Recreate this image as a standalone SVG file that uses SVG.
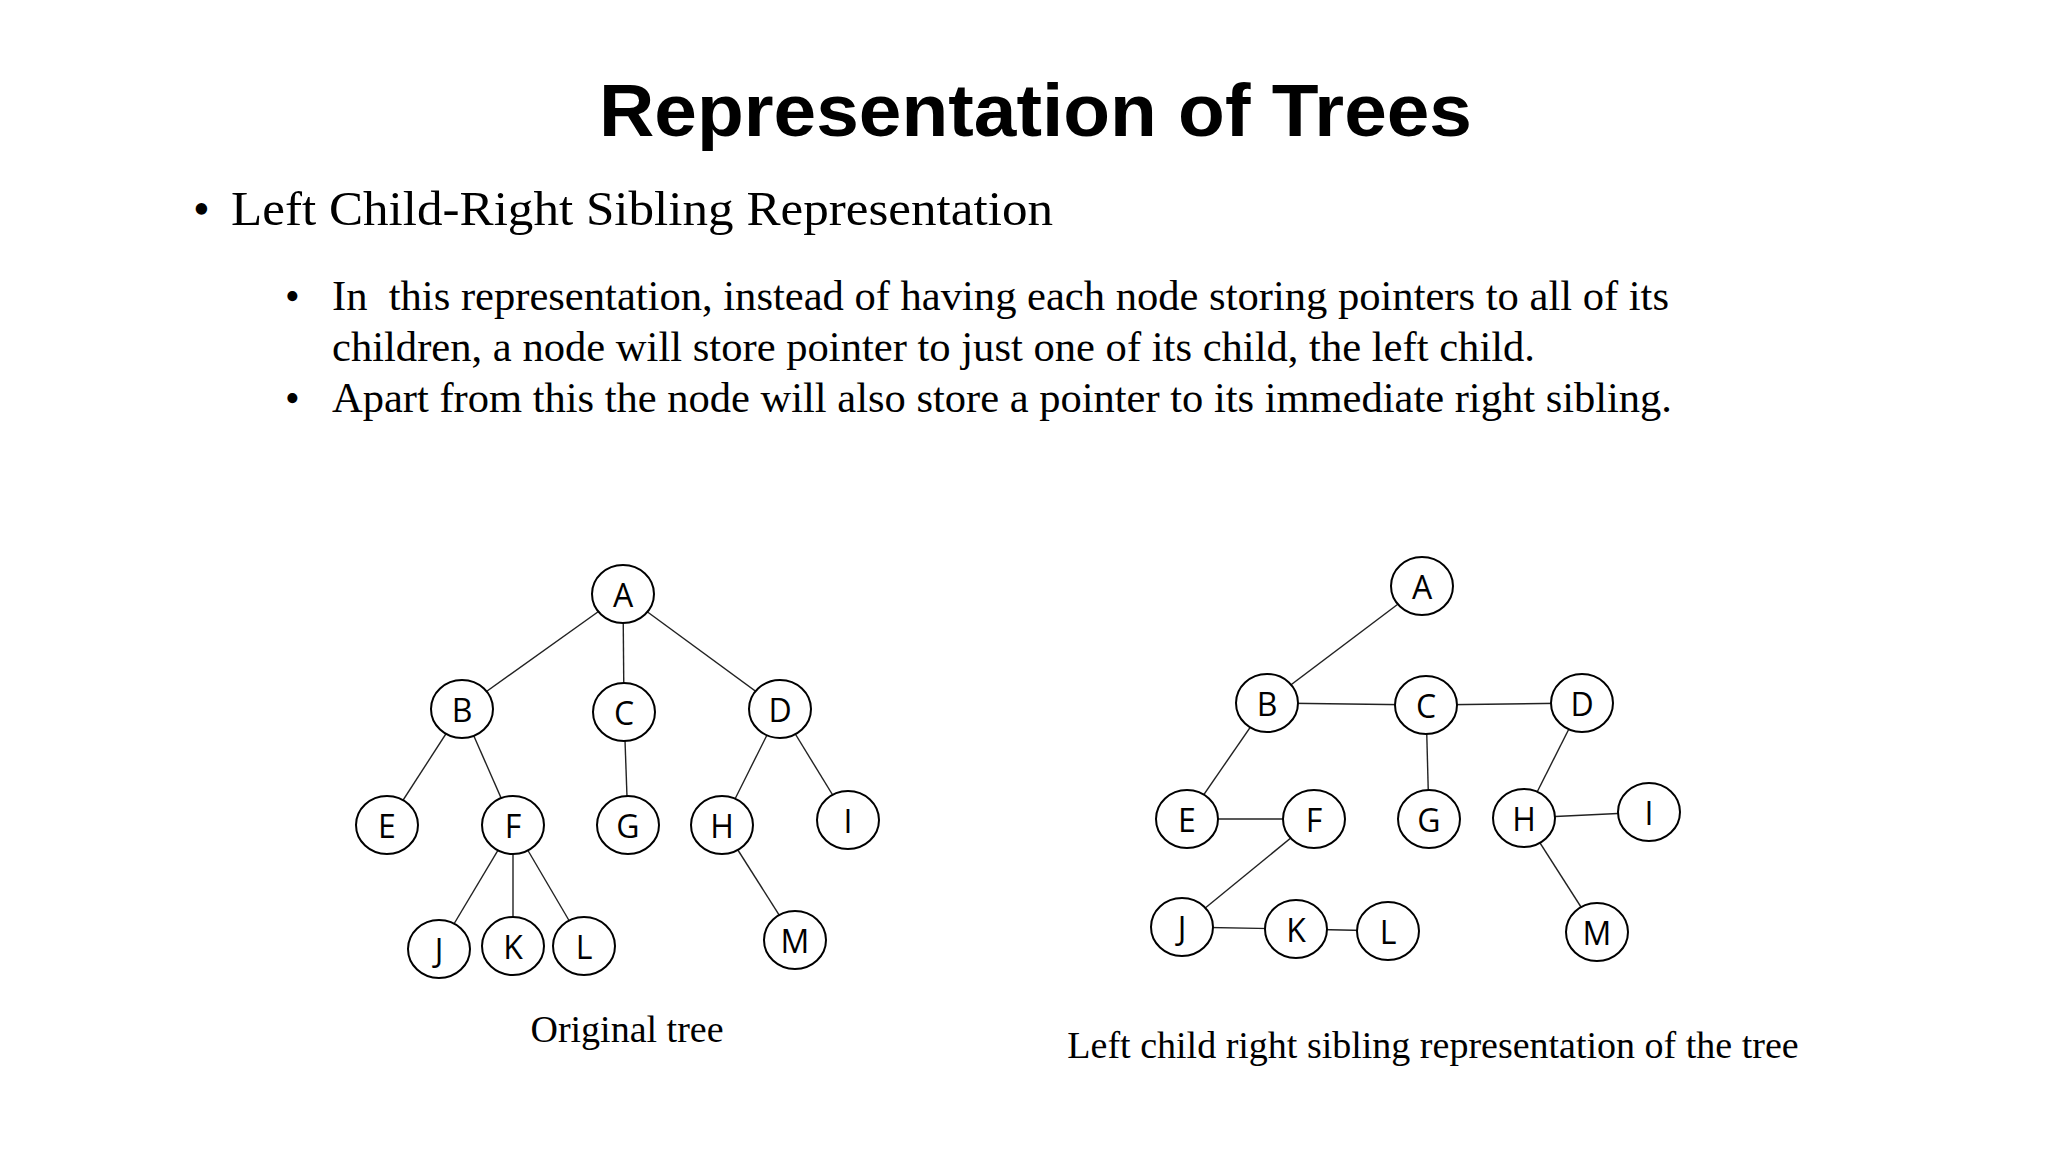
<svg xmlns="http://www.w3.org/2000/svg" width="2048" height="1152" viewBox="0 0 2048 1152">
<style>
.n ellipse{fill:#fff;stroke:#000;stroke-width:2}
.n text{font-family:"Open Sans",sans-serif;font-size:32px;text-anchor:middle;dominant-baseline:central}
.e line{stroke:#222;stroke-width:1.4}
.t{font-family:"Liberation Serif",serif;fill:#000}
</style>
<rect width="2048" height="1152" fill="#fff"/>
<text x="599" y="136" font-family="Liberation Sans,Arial,sans-serif" font-weight="bold" font-size="75" textLength="873" lengthAdjust="spacingAndGlyphs">Representation of Trees</text>
<text class="t" x="193" y="225" font-size="48">•</text>
<text class="t" x="231" y="225" font-size="48" textLength="822" lengthAdjust="spacingAndGlyphs">Left Child-Right Sibling Representation</text>
<text class="t" x="285" y="310" font-size="42">•</text>
<text class="t" x="332" y="310" font-size="42" xml:space="preserve" textLength="1337" lengthAdjust="spacingAndGlyphs">In  this representation, instead of having each node storing pointers to all of its</text>
<text class="t" x="332" y="361" font-size="42" textLength="1203" lengthAdjust="spacingAndGlyphs">children, a node will store pointer to just one of its child, the left child.</text>
<text class="t" x="285" y="412" font-size="42">•</text>
<text class="t" x="332" y="412" font-size="42" textLength="1340" lengthAdjust="spacingAndGlyphs">Apart from this the node will also store a pointer to its immediate right sibling.</text>
<text class="t" x="627" y="1042" font-size="38" text-anchor="middle">Original tree</text>
<text class="t" x="1433" y="1058" font-size="38" text-anchor="middle">Left child right sibling representation of the tree</text>
<g class="e" id="connectors">
<line x1="623" y1="594" x2="462" y2="709"/><line x1="623" y1="594" x2="624" y2="712"/><line x1="623" y1="594" x2="780" y2="709"/>
<line x1="462" y1="709" x2="387" y2="825"/><line x1="462" y1="709" x2="513" y2="825"/><line x1="624" y1="712" x2="628" y2="825"/>
<line x1="780" y1="709" x2="722" y2="825"/><line x1="780" y1="709" x2="848" y2="820"/>
<line x1="513" y1="825" x2="439" y2="949"/><line x1="513" y1="825" x2="513" y2="946"/><line x1="513" y1="825" x2="584" y2="946"/>
<line x1="722" y1="825" x2="795" y2="940"/>
<line x1="1422" y1="586" x2="1267" y2="703"/><line x1="1267" y1="703" x2="1426" y2="705"/><line x1="1426" y1="705" x2="1582" y2="703"/>
<line x1="1267" y1="703" x2="1187" y2="819"/><line x1="1187" y1="819" x2="1314" y2="819"/><line x1="1314" y1="819" x2="1182" y2="927"/>
<line x1="1182" y1="927" x2="1296" y2="929"/><line x1="1296" y1="929" x2="1388" y2="931"/><line x1="1426" y1="705" x2="1429" y2="819"/>
<line x1="1582" y1="703" x2="1524" y2="818"/><line x1="1524" y1="818" x2="1649" y2="812"/><line x1="1524" y1="818" x2="1597" y2="932"/>
</g>
<g class="n" id="L_A"><ellipse cx="623" cy="594" rx="31" ry="29"/><text x="623" y="594">A</text></g>
<g class="n" id="L_B"><ellipse cx="462" cy="709" rx="31" ry="29"/><text x="462" y="709">B</text></g>
<g class="n" id="L_C"><ellipse cx="624" cy="712" rx="31" ry="29"/><text x="624" y="712">C</text></g>
<g class="n" id="L_D"><ellipse cx="780" cy="709" rx="31" ry="29"/><text x="780" y="709">D</text></g>
<g class="n" id="L_E"><ellipse cx="387" cy="825" rx="31" ry="29"/><text x="387" y="825">E</text></g>
<g class="n" id="L_F"><ellipse cx="513" cy="825" rx="31" ry="29"/><text x="513" y="825">F</text></g>
<g class="n" id="L_G"><ellipse cx="628" cy="825" rx="31" ry="29"/><text x="628" y="825">G</text></g>
<g class="n" id="L_H"><ellipse cx="722" cy="825" rx="31" ry="29"/><text x="722" y="825">H</text></g>
<g class="n" id="L_I"><ellipse cx="848" cy="820" rx="31" ry="29"/><text x="848" y="820">I</text></g>
<g class="n" id="L_J"><ellipse cx="439" cy="949" rx="31" ry="29"/><text x="439" y="949">J</text></g>
<g class="n" id="L_K"><ellipse cx="513" cy="946" rx="31" ry="29"/><text x="513" y="946">K</text></g>
<g class="n" id="L_L"><ellipse cx="584" cy="946" rx="31" ry="29"/><text x="584" y="946">L</text></g>
<g class="n" id="L_M"><ellipse cx="795" cy="940" rx="31" ry="29"/><text x="795" y="940">M</text></g>
<g class="n" id="R_A"><ellipse cx="1422" cy="586" rx="31" ry="29"/><text x="1422" y="586">A</text></g>
<g class="n" id="R_B"><ellipse cx="1267" cy="703" rx="31" ry="29"/><text x="1267" y="703">B</text></g>
<g class="n" id="R_C"><ellipse cx="1426" cy="705" rx="31" ry="29"/><text x="1426" y="705">C</text></g>
<g class="n" id="R_D"><ellipse cx="1582" cy="703" rx="31" ry="29"/><text x="1582" y="703">D</text></g>
<g class="n" id="R_E"><ellipse cx="1187" cy="819" rx="31" ry="29"/><text x="1187" y="819">E</text></g>
<g class="n" id="R_F"><ellipse cx="1314" cy="819" rx="31" ry="29"/><text x="1314" y="819">F</text></g>
<g class="n" id="R_G"><ellipse cx="1429" cy="819" rx="31" ry="29"/><text x="1429" y="819">G</text></g>
<g class="n" id="R_H"><ellipse cx="1524" cy="818" rx="31" ry="29"/><text x="1524" y="818">H</text></g>
<g class="n" id="R_I"><ellipse cx="1649" cy="812" rx="31" ry="29"/><text x="1649" y="812">I</text></g>
<g class="n" id="R_J"><ellipse cx="1182" cy="927" rx="31" ry="29"/><text x="1182" y="927">J</text></g>
<g class="n" id="R_K"><ellipse cx="1296" cy="929" rx="31" ry="29"/><text x="1296" y="929">K</text></g>
<g class="n" id="R_L"><ellipse cx="1388" cy="931" rx="31" ry="29"/><text x="1388" y="931">L</text></g>
<g class="n" id="R_M"><ellipse cx="1597" cy="932" rx="31" ry="29"/><text x="1597" y="932">M</text></g>
</svg>
